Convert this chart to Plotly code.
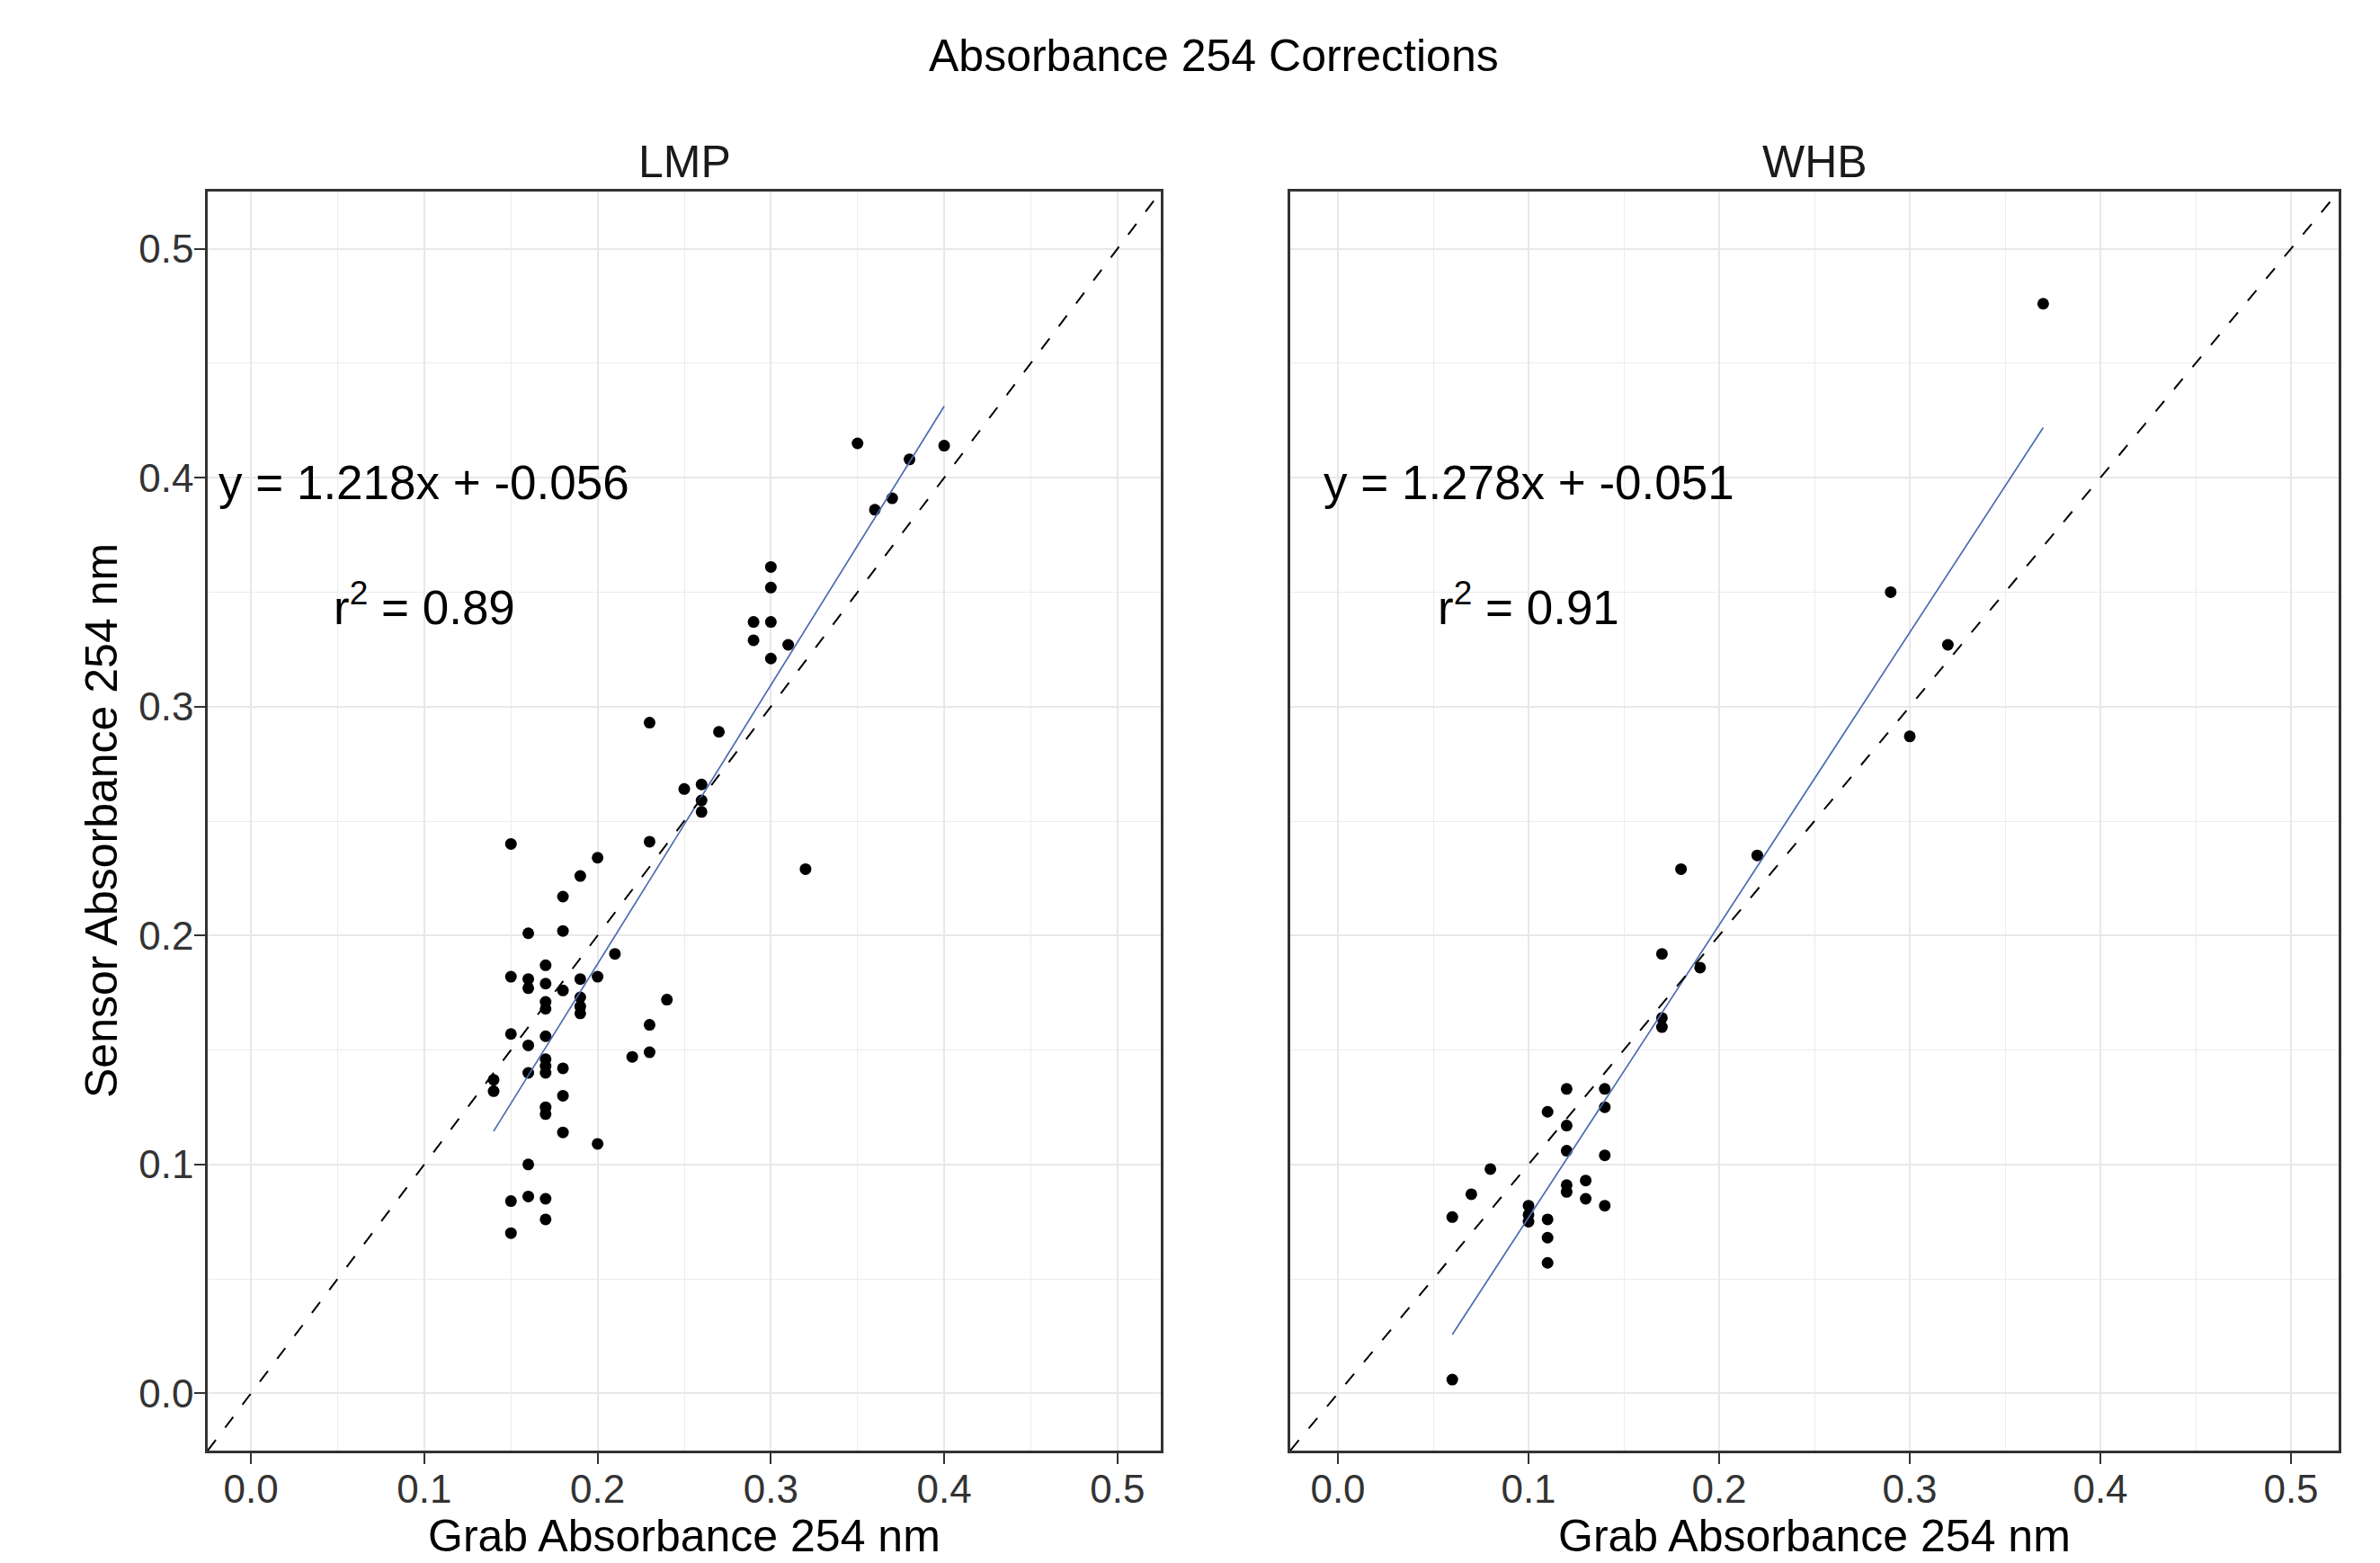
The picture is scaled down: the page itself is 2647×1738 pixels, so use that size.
import numpy as np
import plotly.graph_objects as go

# ---------------- data ----------------
panels = ["LMP", "WHB"]

lmp_grab = [0.14, 0.14,
            0.15, 0.15, 0.15, 0.15, 0.15,
            0.16, 0.16, 0.16, 0.16, 0.16, 0.16, 0.16,
            0.17, 0.17, 0.17, 0.17, 0.17, 0.17, 0.17, 0.17, 0.17, 0.17, 0.17, 0.17,
            0.18, 0.18, 0.18, 0.18, 0.18, 0.18,
            0.19, 0.19, 0.19, 0.19, 0.19,
            0.20, 0.20, 0.20,
            0.21, 0.22,
            0.23, 0.23, 0.23, 0.23,
            0.24, 0.25,
            0.26, 0.26, 0.26,
            0.27,
            0.29, 0.29,
            0.30, 0.30, 0.30, 0.30,
            0.31, 0.32, 0.35, 0.36, 0.37, 0.38, 0.40]
lmp_sensor = [0.137, 0.132,
              0.240, 0.182, 0.157, 0.084, 0.070,
              0.201, 0.181, 0.177, 0.152, 0.140, 0.100, 0.086,
              0.187, 0.179, 0.171, 0.168, 0.156, 0.146, 0.143, 0.140, 0.125, 0.122, 0.085, 0.076,
              0.217, 0.202, 0.176, 0.142, 0.130, 0.114,
              0.226, 0.181, 0.173, 0.169, 0.166,
              0.234, 0.182, 0.109,
              0.192, 0.147,
              0.293, 0.241, 0.161, 0.149,
              0.172, 0.264,
              0.266, 0.259, 0.254,
              0.289,
              0.337, 0.329,
              0.361, 0.352, 0.337, 0.321,
              0.327, 0.229, 0.415, 0.386, 0.391, 0.408, 0.414]

whb_grab = [0.06, 0.06, 0.07, 0.08,
            0.10, 0.10, 0.10,
            0.11, 0.11, 0.11, 0.11,
            0.12, 0.12, 0.12, 0.12, 0.12,
            0.13, 0.13,
            0.14, 0.14, 0.14, 0.14,
            0.17, 0.17, 0.17,
            0.18, 0.19, 0.22, 0.29, 0.30, 0.32, 0.37]
whb_sensor = [0.077, 0.006, 0.087, 0.098,
              0.082, 0.078, 0.075,
              0.123, 0.076, 0.068, 0.057,
              0.133, 0.117, 0.106, 0.091, 0.088,
              0.093, 0.085,
              0.133, 0.125, 0.104, 0.082,
              0.192, 0.164, 0.160,
              0.229, 0.186, 0.235, 0.350, 0.287, 0.327, 0.476]

slopes = [1.218, 1.278]
intercepts = [-0.056, -0.051]
r_squared = [0.89, 0.91]

tick_vals = [0.0, 0.1, 0.2, 0.3, 0.4, 0.5]
tick_text = ["0.0", "0.1", "0.2", "0.3", "0.4", "0.5"]

title_text = "Absorbance 254 Corrections"
x_title = "Grab Absorbance 254 nm"
y_title = "Sensor Absorbance 254 nm"

# ---------------- figure ----------------
W, H = 2647, 1738
FONT = "Liberation Sans, Arial, sans-serif"
AX_RANGE = [-0.025, 0.525]

groups = [(lmp_grab, lmp_sensor), (whb_grab, whb_sensor)]
x_domains = [[231 / W, 1291 / W], [1435 / W, 2601 / W]]
y_domain = [1 - 1613 / H, 1 - 213 / H]

fig = go.Figure()

for i, (gx, gy) in enumerate(groups):
    xa = "x" if i == 0 else "x2"
    ya = "y" if i == 0 else "y2"
    fig.add_trace(go.Scatter(x=gx, y=gy, mode="markers", xaxis=xa, yaxis=ya,
                             marker=dict(color="black", size=13, line=dict(width=0)),
                             showlegend=False, hoverinfo="x+y"))
    xr = np.array([min(gx), max(gx)])
    fig.add_trace(go.Scatter(x=xr, y=slopes[i] * xr + intercepts[i], mode="lines",
                             xaxis=xa, yaxis=ya,
                             line=dict(color="#4a6cae", width=1.7),
                             showlegend=False, hoverinfo="skip"))
    xd = np.array(AX_RANGE)
    fig.add_trace(go.Scatter(x=xd, y=xd, mode="lines", xaxis=xa, yaxis=ya,
                             line=dict(color="black", width=2, dash="15px,17px"),
                             showlegend=False, hoverinfo="skip"))

axis_common = dict(
    range=AX_RANGE, tickvals=tick_vals, ticktext=tick_text,
    showgrid=True, gridcolor="#e8e8e8", gridwidth=2.2,
    minor=dict(dtick=0.05, tick0=0.0, showgrid=True, gridcolor="#ececec", gridwidth=1.1),
    zeroline=False, showline=True, mirror=True, linecolor="#333333", linewidth=2.5,
    ticks="outside", ticklen=12, tickwidth=2, tickcolor="#333333",
    tickfont=dict(family=FONT, size=44, color="#333333"),
)

fig.update_layout(
    width=W, height=H,
    margin=dict(l=0, r=0, t=0, b=0),
    paper_bgcolor="white", plot_bgcolor="white",
    showlegend=False,
    xaxis=dict(domain=x_domains[0], anchor="y", ticklabelstandoff=-10, **axis_common),
    xaxis2=dict(domain=x_domains[1], anchor="y2", ticklabelstandoff=-10, **axis_common),
    yaxis=dict(domain=y_domain, anchor="x", ticklabelstandoff=-8, **axis_common),
    yaxis2=dict(domain=y_domain, anchor="x2", **{**axis_common, "showticklabels": False, "ticks": ""}),
)

annotations = []
annotations.append(dict(text=title_text, x=1350 / W, y=1 - 62 / H, xref="paper", yref="paper",
                        showarrow=False, xanchor="center", yanchor="middle",
                        font=dict(family=FONT, size=50, color="black")))
for i in range(2):
    cx = (x_domains[i][0] + x_domains[i][1]) / 2
    xa = "x" if i == 0 else "x2"
    ya = "y" if i == 0 else "y2"
    annotations.append(dict(text=panels[i], x=cx, y=1 - 180 / H, xref="paper", yref="paper",
                            showarrow=False, xanchor="center", yanchor="middle",
                            font=dict(family=FONT, size=50, color="#1a1a1a")))
    annotations.append(dict(text=x_title, x=cx, y=1 - 1738 / H, xref="paper", yref="paper",
                            showarrow=False, xanchor="center", yanchor="bottom",
                            font=dict(family=FONT, size=50, color="black")))
    annotations.append(dict(text=f"y = {slopes[i]:.3f}x + {intercepts[i]:.3f}",
                            x=0.1, y=0.398, xref=xa, yref=ya, showarrow=False,
                            xanchor="center", yanchor="middle",
                            font=dict(family=FONT, size=53, color="black")))
    annotations.append(dict(text=f"r<sup>2</sup> = {r_squared[i]:.2f}",
                            x=0.1, y=0.345, xref=xa, yref=ya, showarrow=False,
                            xanchor="center", yanchor="middle",
                            font=dict(family=FONT, size=53, color="black")))
annotations.append(dict(text=y_title, x=113 / W, y=(y_domain[0] + y_domain[1]) / 2,
                        xref="paper", yref="paper", showarrow=False, textangle=-90,
                        xanchor="center", yanchor="middle",
                        font=dict(family=FONT, size=50, color="black")))

fig.update_layout(annotations=annotations)

fig.write_html("out.html",
               config={"displayModeBar": False},
               post_script="document.body.style.margin='0';document.body.style.overflow='hidden';")
